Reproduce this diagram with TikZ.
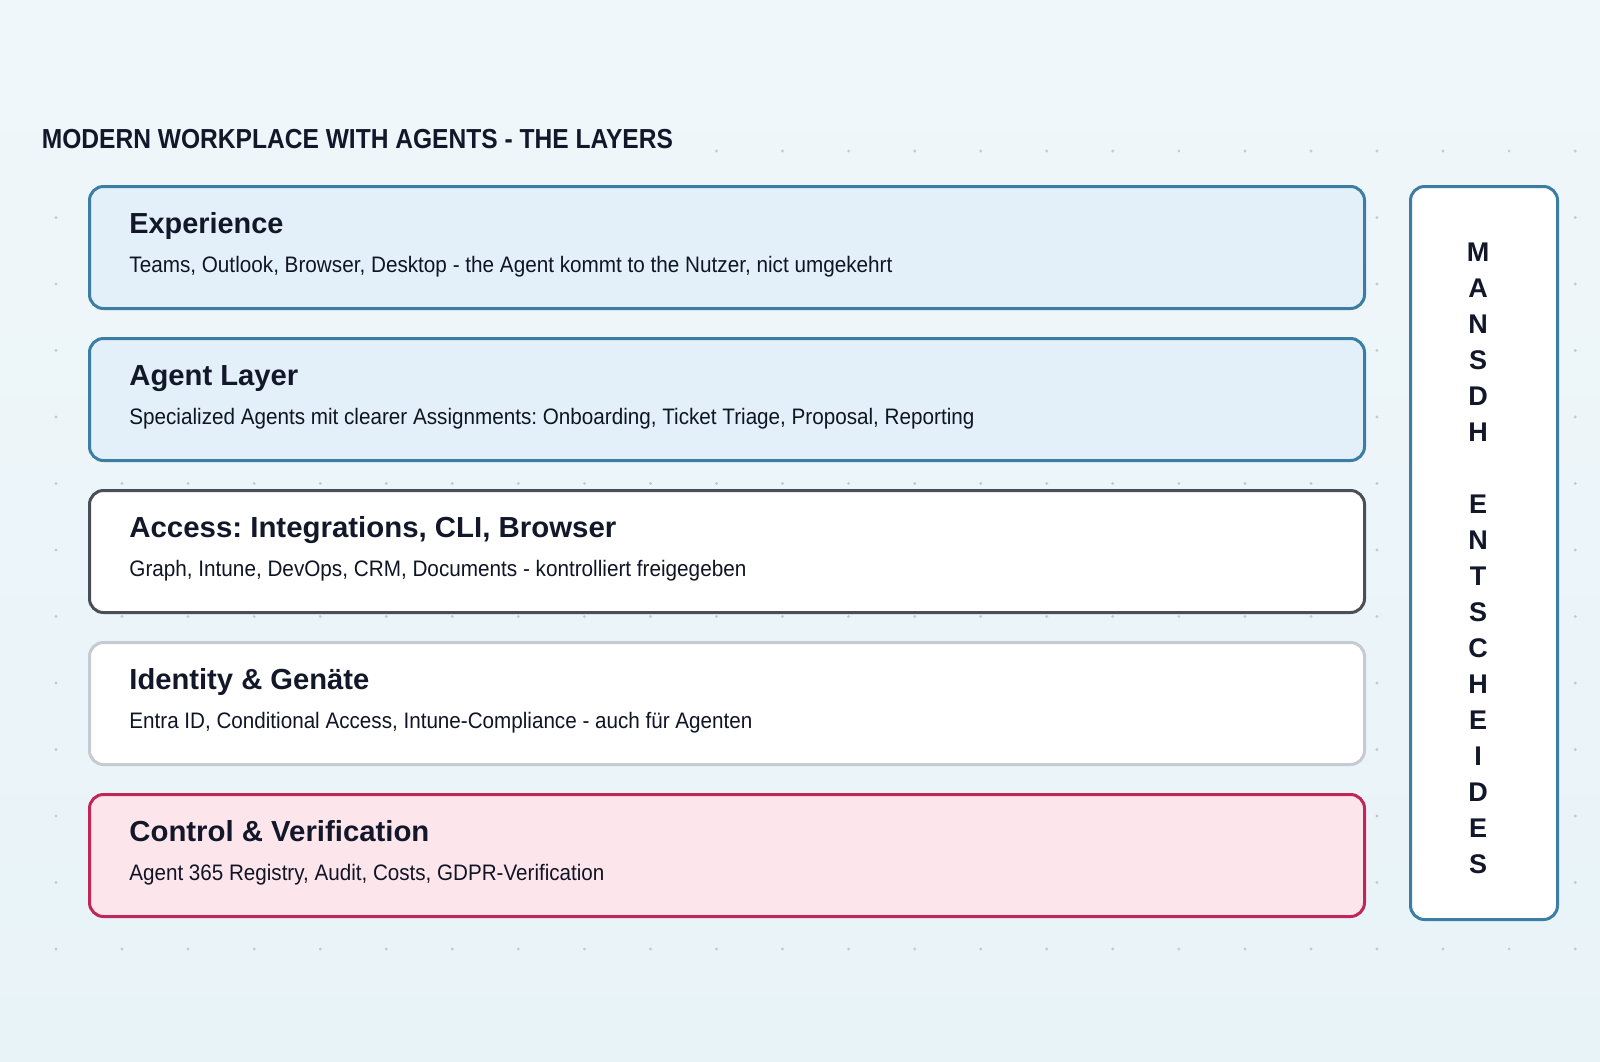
\documentclass[tikz,border=0pt]{standalone}
\usepackage{fontspec}
\setmainfont{Liberation Sans}
\usepackage{graphicx}
\definecolor{bgtop}{HTML}{F0F7FA}
\definecolor{bgbot}{HTML}{E8F3F8}
\definecolor{dotc}{HTML}{C3CBD2}
\definecolor{blueline}{HTML}{3C7DA3}
\definecolor{bluefill}{HTML}{E3F0F9}
\definecolor{darkline}{HTML}{4A4F57}
\definecolor{greyline}{HTML}{C6CBD1}
\definecolor{redline}{HTML}{C12659}
\definecolor{redfill}{HTML}{FDE5EC}
\definecolor{ink}{HTML}{121729}
\newcommand\fitw[2]{\resizebox{#1}{\height}{#2}}
\frenchspacing
\begin{document}
\begin{tikzpicture}[x=0.5pt,y=-0.5pt,
  layerbox/.style={draw, line width=1.5pt, rounded corners=7pt, anchor=north west,
    minimum width=637.5pt, minimum height=61pt, inner sep=0pt},
  headtxt/.style={anchor=base west, inner sep=0pt, text=ink,
    font=\fontsize{14.5pt}{17pt}\selectfont\bfseries},
  subtxt/.style={anchor=base west, inner sep=0pt, text=ink!90!black,
    font=\fontsize{11.2pt}{13pt}\selectfont},
  titletxt/.style={anchor=base west, inner sep=0pt, text=ink,
    font=\fontsize{13.75pt}{16pt}\selectfont\bfseries},
  vletter/.style={anchor=center, inner sep=0pt, text=ink,
    font=\fontsize{13.5pt}{15pt}\selectfont\bfseries}]
\shade[top color=bgtop, bottom color=bgbot] (0,0) rectangle (1600,1061);
\useasboundingbox (0,0) rectangle (1600,1061);
% dot grid
\foreach \r in {0,...,12}{
  \foreach \c in {0,...,23}{
    \pgfmathtruncatemacro{\skip}{(\r==0)&&(\c<10)}
    \ifnum\skip=0
      \fill[dotc] (56+66.05*\c,151+66.5*\r) circle[radius=0.8pt];
    \fi
  }
}
% title
\node[titletxt] (title) at (41.5,148.5) {\fitw{315.5pt}{MODERN WORKPLACE WITH AGENTS - THE LAYERS}};
% layer boxes
\node[layerbox, draw=blueline, fill=bluefill] (b1) at (88,185) {};
\node[layerbox, draw=blueline, fill=bluefill] (b2) at (88,337) {};
\node[layerbox, draw=darkline, fill=white] (b3) at (88,489) {};
\node[layerbox, draw=greyline, fill=white] (b4) at (88,641) {};
\node[layerbox, draw=redline, fill=redfill] (b5) at (88,793) {};
% side box
\node[layerbox, draw=blueline, fill=white, minimum width=73.5pt, minimum height=366.5pt] (side) at (1409,185) {};
% headings and descriptions
\node[headtxt] (h1) at (129,233) {\fitw{77pt}{Experience}};
\node[subtxt] (s1) at (129,272.5) {\fitw{381.5pt}{Teams, Outlook, Browser, Desktop - the Agent kommt to the Nutzer, nict umgekehrt}};
\node[headtxt] (h2) at (129,385) {\fitw{84.5pt}{Agent Layer}};
\node[subtxt] (s2) at (129,424.5) {\fitw{422.5pt}{Specialized Agents mit clearer Assignments: Onboarding, Ticket Triage, Proposal, Reporting}};
\node[headtxt] (h3) at (129,537) {\fitw{243.5pt}{Access: Integrations, CLI, Browser}};
\node[subtxt] (s3) at (129,576.5) {\fitw{308.5pt}{Graph, Intune, DevOps, CRM, Documents - kontrolliert freigegeben}};
\node[headtxt] (h4) at (129,689) {\fitw{120pt}{Identity \& Genäte}};
\node[subtxt] (s4) at (129,728.5) {\fitw{311.5pt}{Entra ID, Conditional Access, Intune-Compliance - auch für Agenten}};
\node[headtxt] (h5) at (129,841) {\fitw{150pt}{Control \& Verification}};
\node[subtxt] (s5) at (129,880.5) {\fitw{237.5pt}{Agent 365 Registry, Audit, Costs, GDPR-Verification}};
% vertical letters
\foreach \L [count=\i from 0] in {M,A,N,S,D,H}{
  \node[vletter] (va\i) at (1478,252+36*\i) {\L};
}
\foreach \L [count=\i from 7] in {E,N,T,S,C,H,E,I,D,E,S}{
  \node[vletter] (vb\i) at (1478,252+36*\i) {\L};
}
\end{tikzpicture}
\end{document}
